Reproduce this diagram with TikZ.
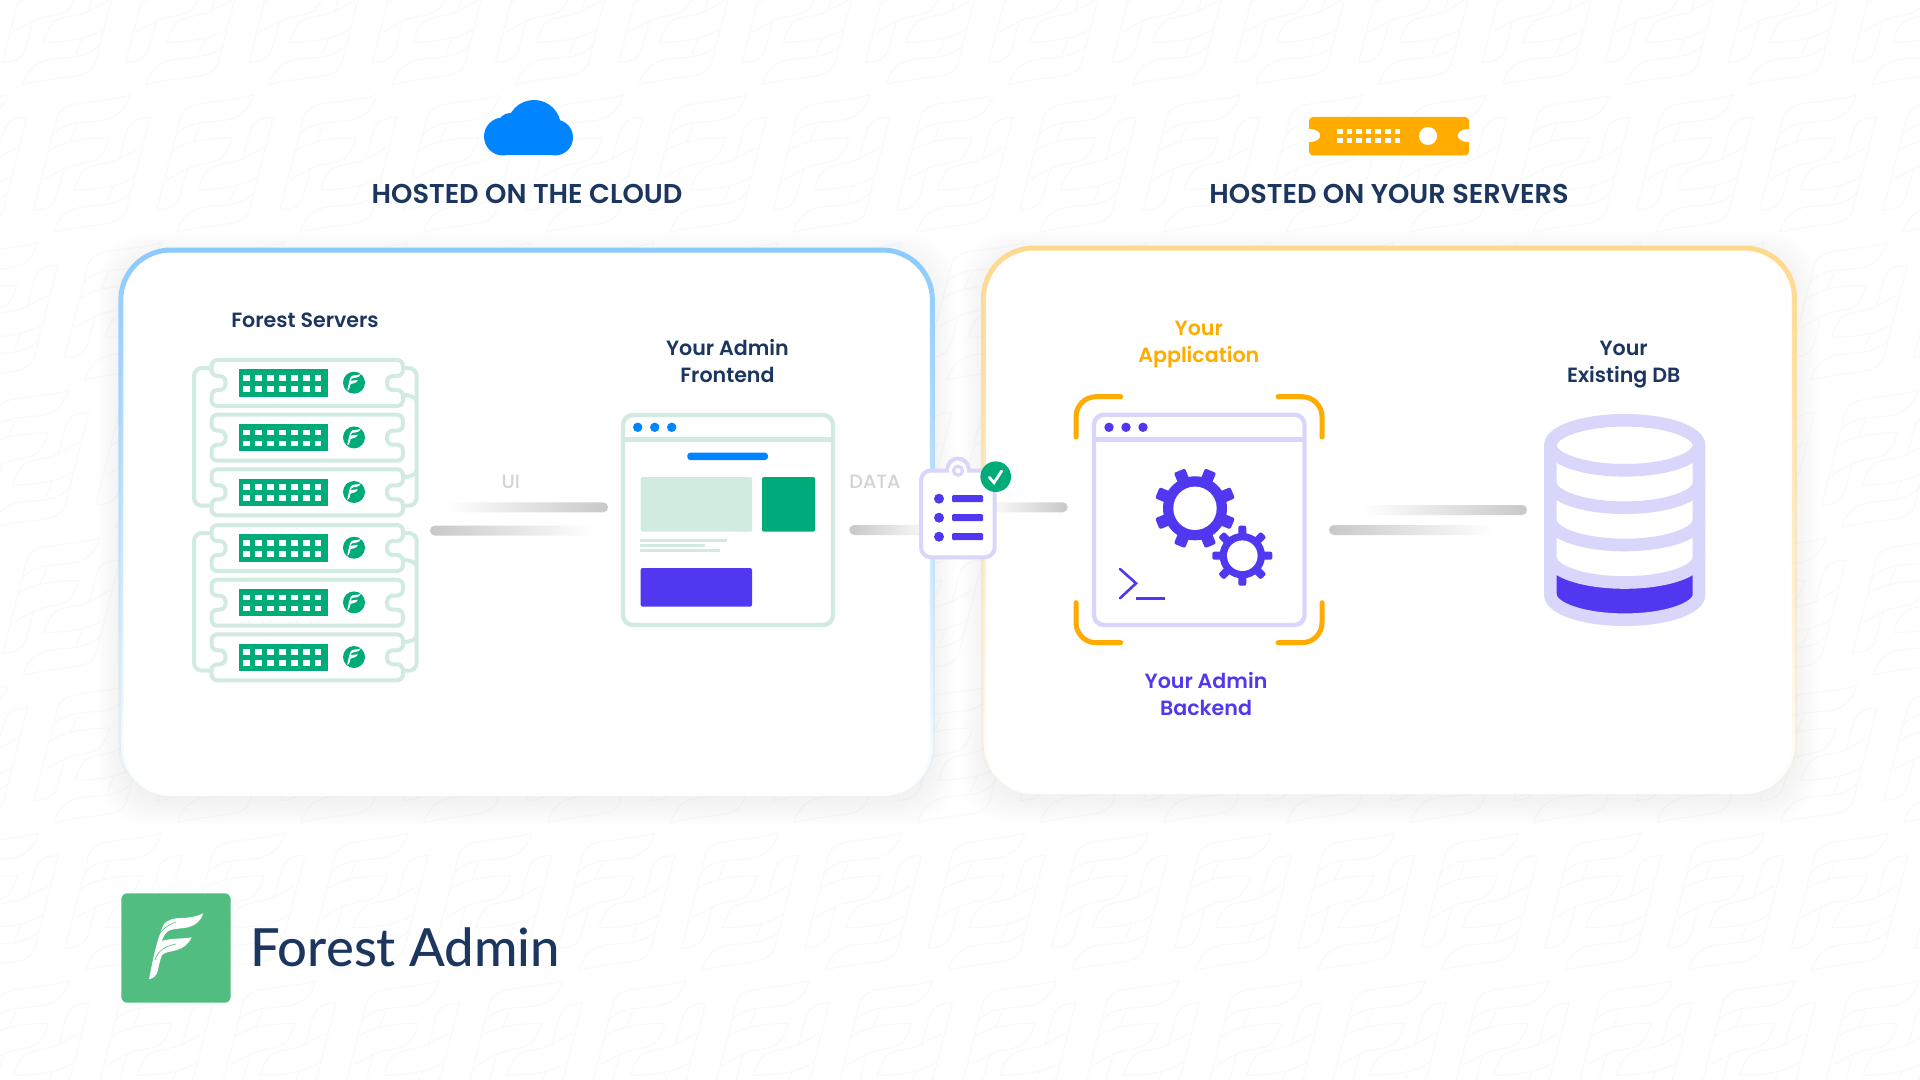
\documentclass[tikz,border=0pt]{standalone}
\usepackage{fontspec}
\usepackage{tikz}
\usetikzlibrary{fadings}
\setmainfont{Poppins}
\newfontfamily\labelFont{Poppins SemiBold}
\newfontfamily\headFont{Poppins SemiBold}
\newfontfamily\plainFont{Poppins Medium}
\newfontfamily\logoFont{Lato Medium}
\definecolor{navyText}{HTML}{1C3660}
\definecolor{forestGreen}{HTML}{00AB7A}
\definecolor{logoGreen}{HTML}{52BD81}
\definecolor{mintLine}{HTML}{D1EBE1}
\definecolor{lavLine}{HTML}{D9D6FC}
\definecolor{deepPurple}{HTML}{5038F0}
\definecolor{skyBlue}{HTML}{0084FF}
\definecolor{amberTone}{HTML}{FFAB00}
\definecolor{edgeBlue}{HTML}{8CCBFF}
\definecolor{edgeAmber}{HTML}{FFD98C}
\definecolor{barGray}{HTML}{C8C8C8}
\definecolor{faintText}{HTML}{D3D3D3}
\definecolor{leafMark}{HTML}{F8F9F9}
\tikzfading[name=panelFade, top color=transparent!0, middle color=transparent!0, bottom color=transparent!100]
\tikzset{
    panelBox/.style={line width=2.5pt, rounded corners=25pt, path fading=panelFade},
    unitLine/.style={draw=mintLine, line width=2pt, rounded corners=3pt, fill=white},
    rackLine/.style={draw=mintLine, line width=2pt, rounded corners=4pt},
    winLine/.style={line width=2.2pt, rounded corners=5pt, fill=white},
    bracketLine/.style={draw=amberTone, line width=2.5pt, line cap=round, rounded corners=10pt},
    dbLine/.style={draw=lavLine, line width=6.3pt},
    fadeLeft/.style={left color=white, right color=barGray, rounded corners=2.5pt},
    fadeRight/.style={left color=barGray, right color=white, rounded corners=2.5pt},
    capLabel/.style={font=\headFont\fontsize{13.6}{15}\selectfont, text=navyText, inner sep=0pt},
    boxLabel/.style={font=\labelFont\fontsize{10.3}{13.5}\selectfont, align=center, inner sep=0pt},
    flowLabel/.style={font=\plainFont\fontsize{9.6}{12}\selectfont, text=faintText, inner sep=0pt},
}
% one F of the wallpaper, drawn twice per motif
\newcommand{\drawLeafOutline}{
    \draw (38.3,-68.7) .. controls (15,-62) and (-15,-62) .. (-25,-57) .. controls (-31,-54) and (-34,-50) .. (-35,-45)
        -- (-58.3,46.3) .. controls (-45,46) and (-38,42) .. (-35,32) .. controls (-32,22) and (-30,12) .. (-27.3,4.7)
        .. controls (-15,-1) and (0,0) .. (7,-6) .. controls (12,-11) and (15,-18) .. (17.3,-26)
        .. controls (0,-26) and (-28,-24) .. (-44,-12);
    \draw (38.3,-68.7) .. controls (33,-52) and (24,-45) .. (8,-43) .. controls (-10,-41) and (-30,-42) .. (-40,-27);
    \draw (-15,-38) -- (-21.7,-22);
    \draw (-27.3,4.7) -- (-48,16);
}
\newcommand{\drawLeafF}[3]{
    \fill[white, shift={(#1,#2)}, scale=#3] (-27,31.3) .. controls (-22,5) and (-17,-15) .. (-12,-24)
        .. controls (-9,-28) and (-2,-30) .. (5,-30) .. controls (14,-30) and (22,-32) .. (27.3,-34.7)
        .. controls (25,-27) and (18,-21) .. (8,-20) .. controls (0,-19) and (-6,-19) .. (-9,-16)
        .. controls (-12,-13) and (-13,-10) .. (-14.3,-7) .. controls (-6,-10) and (8,-9) .. (15.7,-10.7)
        .. controls (12,-3) and (7,0) .. (1,2) .. controls (-6,4) and (-11,4) .. (-14,7)
        .. controls (-16,12) and (-17,17) .. (-18,22) .. controls (-19,27) and (-23,31) .. (-27,31.3) -- cycle;
}
\newcommand{\drawServerUnit}[1]{
    \begin{scope}[shift={(211.5,#1)}]
        \draw[unitLine] (0,0) -- (191.5,0) -- (191.5,16) -- (175.5,16) -- (175.5,30) -- (191.5,30) -- (191.5,46)
            -- (0,46) -- (0,30) -- (14,30) -- (14,16) -- (0,16) -- cycle;
        \fill[forestGreen] (27,9.3) rectangle (116,36.7);
        \foreach \col in {0,...,6} {
            \fill[white] (31.9+\col*11.9,15) rectangle (38.5+\col*11.9,20.6);
            \fill[white] (31.9+\col*11.9,25.9) rectangle (38.5+\col*11.9,31.5);
        }
        \fill[forestGreen] (142.5,22.7) circle (11);
        \drawLeafF{142.5}{22.7}{0.25}
    \end{scope}
}
\newcommand{\drawServerRack}[1]{
    \begin{scope}[shift={(0,#1)}]
        \draw[rackLine] (212,368) -- (194,368) -- (194,505.7) -- (212,505.7);
        \draw[rackLine] (403,368) -- (416.7,368) -- (416.7,505.7) -- (403,505.7);
        \draw[mintLine, line width=2pt] (403,395) .. controls (410,395) and (416,397) .. (416.7,402);
        \draw[mintLine, line width=2pt] (403,477) .. controls (410,477) and (416,475) .. (416.7,470);
    \end{scope}
}
\newcommand{\drawGear}[7]{
    \foreach \ang in {0,45,...,315} {
        \fill[deepPurple, shift={(#1,#2)}, rotate=\ang+#7, rounded corners=1pt] (#3-3,-#5/2) rectangle (#4,#5/2);
    }
    \fill[deepPurple] (#1,#2) circle (#3);
    \fill[white] (#1,#2) circle (#6);
}
\newcommand{\drawTitleDots}[2]{
    \foreach \dotx in {0,17,34} {
        \fill[#2] (#1+\dotx,427.3) circle (4.7);
    }
}
\begin{document}
\begin{tikzpicture}[x=0.5pt, y=-0.5pt]
    \useasboundingbox (0,0) rectangle (1920,1080);
    \fill[white] (0,0) rectangle (1920,1080);

    % wallpaper
    \begin{scope}
        \clip (0,0) rectangle (1920,1080);
        \foreach \row in {-1,...,6} {
            \foreach \col in {-3,...,15} {
                \begin{scope}[shift={(91.7+\row*31+\col*123.3,163.7+\row*147.6)}, draw=leafMark, line width=0.5pt]
                    \drawLeafOutline
                    \begin{scope}[rotate=180]
                        \drawLeafOutline
                    \end{scope}
                \end{scope}
            }
        }
    \end{scope}

    % panels
    \foreach \grow in {2,4,...,24} {
        \fill[black, opacity=0.003, rounded corners=26pt] (121-\grow,250-\grow+6) rectangle (933+\grow,796+\grow+6);
        \fill[black, opacity=0.003, rounded corners=26pt] (983.7-\grow,248-\grow+6) rectangle (1795+\grow,794+\grow+6);
    }
    \fill[white, rounded corners=25pt] (121,250) rectangle (933,796);
    \fill[white, rounded corners=25pt] (983.7,248) rectangle (1795,794);
    \draw[panelBox, edgeBlue] (121,250) rectangle (933,796);
    \draw[panelBox, edgeAmber] (983.7,248) rectangle (1795,794);

    % cloud
    \fill[skyBlue] (534,127) circle (27);
    \fill[skyBlue] (510,125) circle (12);
    \fill[skyBlue] (503,136.5) circle (19);
    \fill[skyBlue] (555,137.5) circle (18);
    \fill[skyBlue] (503,136) rectangle (555,155.5);
    \node[capLabel] (cloudTitle) at (527,193.5) {HOSTED ON THE CLOUD};

    % rack icon
    \fill[amberTone, rounded corners=2pt] (1309,117) rectangle (1469,155.5);
    \fill[white] (1309,129.5) .. controls (1324,129.5) and (1324,142.5) .. (1309,142.5) -- cycle;
    \fill[white] (1469,129.5) .. controls (1454,129.5) and (1454,142.5) .. (1469,142.5) -- cycle;
    \foreach \col in {0,...,6} {
        \fill[white] (1337+\col*9.6,129.3) rectangle (1342.6+\col*9.6,134);
        \fill[white] (1337+\col*9.6,138.3) rectangle (1342.6+\col*9.6,142.9);
    }
    \fill[white] (1428,136) circle (9);
    \node[capLabel] (serverTitle) at (1389,193.5) {HOSTED ON YOUR SERVERS};

    % forest servers
    \node[boxLabel, text=navyText] (forestLabel) at (305,320) {Forest Servers};
    \drawServerRack{0}
    \drawServerRack{165}
    \foreach \unitY in {360,414.7,469.3,525,579.7,634.3} {
        \drawServerUnit{\unitY}
    }

    % links
    \coordinate (uiTopA) at (445,502.3);
    \coordinate (uiTopB) at (608,512.3);
    \coordinate (uiLowA) at (430,525.7);
    \coordinate (uiLowB) at (593,535.7);
    \coordinate (dataLowA) at (849.3,525);
    \coordinate (dataLowB) at (935,535);
    \coordinate (dataTopA) at (985,502.3);
    \coordinate (dataTopB) at (1067.7,512.3);
    \coordinate (dbTopA) at (1362,505);
    \coordinate (dbTopB) at (1527,515);
    \coordinate (dbLowA) at (1329,525);
    \coordinate (dbLowB) at (1494,535);
    \shade[fadeLeft] (uiTopA) rectangle (uiTopB);
    \shade[fadeRight] (uiLowA) rectangle (uiLowB);
    \shade[fadeRight] (dataLowA) rectangle (dataLowB);
    \shade[fadeLeft] (dataTopA) rectangle (dataTopB);
    \shade[fadeLeft] (dbTopA) rectangle (dbTopB);
    \shade[fadeRight] (dbLowA) rectangle (dbLowB);
    \node[flowLabel] (uiLabel) at (510.7,482) {UI};
    \node[flowLabel] (dataLabel) at (875,482) {DATA};

    % admin frontend
    \node[boxLabel, text=navyText] (frontLabel) at (727.4,361.2) {Your Admin\\Frontend};
    \draw[winLine, draw=mintLine] (623,415) rectangle (833,625);
    \draw[mintLine, line width=2.2pt] (623,439.3) -- (833,439.3);
    \drawTitleDots{637.7}{skyBlue}
    \fill[skyBlue, rounded corners=1.5pt] (687.3,452.7) rectangle (768,460);
    \fill[mintLine, rounded corners=1pt] (640.7,477) rectangle (752,531.7);
    \fill[forestGreen, rounded corners=1pt] (762,477) rectangle (815,531.7);
    \fill[mintLine] (640.3,538.5) rectangle (726.7,541.5);
    \fill[mintLine] (640.3,543.8) rectangle (705,546.8);
    \fill[mintLine] (640.3,549.2) rectangle (720,552.2);
    \fill[deepPurple, rounded corners=1pt] (640.7,568) rectangle (752,606.7);

    % clipboard
    \draw[winLine, draw=lavLine, line width=2pt] (921,470.5) rectangle (994.7,557.3);
    \begin{scope}
        \clip (940,450) rectangle (976,471);
        \draw[lavLine, line width=2pt, fill=white] (958,469) circle (10.5);
    \end{scope}
    \fill[white] (949,468) rectangle (967,473);
    \draw[lavLine, line width=1.6pt] (958,470.7) circle (4.5);
    \foreach \rowY in {498.7,517.7,536.7} {
        \fill[deepPurple] (939,\rowY) circle (5);
        \fill[deepPurple, rounded corners=0.6pt] (952,\rowY-3.5) rectangle (983,\rowY+3.5);
    }
    \fill[forestGreen] (995.7,476.7) circle (15.3);
    \draw[white, line width=1.4pt, line cap=round] (989.3,477.3) -- (994,482.7) -- (1001.7,471);

    % admin backend
    \node[boxLabel, text=amberTone] (appLabel) at (1198.8,344.6) {Your\\Application};
    \draw[bracketLine] (1076,437) -- (1076,396.7) -- (1120.7,396.7);
    \draw[bracketLine] (1278,396.7) -- (1322,396.7) -- (1322,437);
    \draw[bracketLine] (1076,602.7) -- (1076,642.7) -- (1120.7,642.7);
    \draw[bracketLine] (1278,642.7) -- (1322,642.7) -- (1322,602.7);
    \draw[winLine, draw=lavLine] (1094,414.7) rectangle (1304.5,625);
    \draw[lavLine, line width=2.2pt] (1094,439.3) -- (1304.5,439.3);
    \drawTitleDots{1109}{deepPurple}
    \drawGear{1195}{508.3}{32}{40.7}{12}{21.7}{22.5}
    \drawGear{1242.3}{555.7}{22.7}{30}{8}{15.3}{0}
    \draw[deepPurple, line width=1.3pt, line cap=round] (1120,569) -- (1136,583.3) -- (1120,598.3);
    \draw[deepPurple, line width=1.3pt] (1136,598.3) -- (1164.7,598.3);
    \node[boxLabel, text=deepPurple] (backLabel) at (1206,694.3) {Your Admin\\Backend};

    % database
    \node[boxLabel, text=navyText] (dbLabel) at (1623.7,364.6) {Your\\Existing DB};
    \fill[deepPurple] (1550.4,557.5) arc[start angle=180, end angle=0, x radius=74.3, y radius=25]
        -- (1699,594.7) arc[start angle=0, end angle=180, x radius=74.3, y radius=25] -- cycle;
    \draw[dbLine] (1624.7,445.3) ellipse[x radius=74.3, y radius=25];
    \draw[dbLine] (1550.4,445.3) -- (1550.4,594.7) arc[start angle=180, end angle=0, x radius=74.3, y radius=25] -- (1699,445.3);
    \foreach \arcY in {482.7,520,557.5} {
        \draw[dbLine] (1550.4,\arcY) arc[start angle=180, end angle=0, x radius=74.3, y radius=25];
    }

    % logo
    \fill[logoGreen, rounded corners=3pt] (121.3,893.3) rectangle (230.7,1002.7);
    \drawLeafF{176}{948}{1}
    \draw[logoGreen, line width=0.3pt] (158,938) .. controls (160,930) and (168,925) .. (176,922);
    \draw[logoGreen, line width=0.3pt] (155,960) .. controls (158,950) and (166,946) .. (176,944);
    \node[font=\logoFont\fontsize{26.3}{30}\selectfont, text=navyText, anchor=base west, inner sep=0pt] (logoName) at (250,966) {Forest Admin};
\end{tikzpicture}
\end{document}
